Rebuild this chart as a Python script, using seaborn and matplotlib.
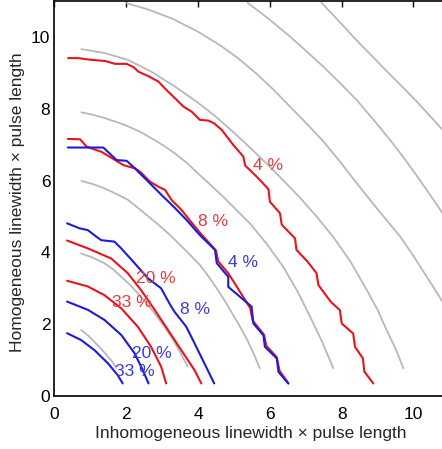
import matplotlib
matplotlib.use('Agg')
import matplotlib.pyplot as plt
import seaborn as sns

# grey reference contours (x, y)
g2_x = [0.74, 0.93, 1.11, 1.30, 1.49, 1.62, 1.72]
g2_y = [1.84, 1.69, 1.51, 1.31, 1.10, 0.94, 0.78]
g4_x = [0.74, 1.05, 1.39, 1.63, 1.86, 2.10, 2.32, 2.56, 2.79, 3.02, 3.25, 3.48, 3.71]
g4_y = [3.97, 3.86, 3.70, 3.53, 3.32, 3.10, 2.86, 2.59, 2.30, 1.99, 1.65, 1.26, 0.82]
g6_x = [0.75, 1.08, 1.40, 1.72, 2.05, 2.52, 2.86, 3.20, 3.62, 4.05, 4.30, 4.55, 4.77,
        4.98, 5.17, 5.35, 5.54, 5.72]
g6_y = [5.99, 5.90, 5.78, 5.63, 5.46, 5.08, 4.80, 4.50, 4.09, 3.65, 3.32, 2.95, 2.61,
        2.25, 1.93, 1.60, 1.20, 0.77]
g8_x = [0.75, 1.08, 1.40, 1.73, 2.05, 2.38, 2.70, 3.03, 3.35, 3.70, 4.05, 4.40, 4.75,
        5.10, 5.45, 5.91, 6.37, 6.75, 7.12, 7.45, 7.77]
g8_y = [7.90, 7.83, 7.74, 7.63, 7.51, 7.36, 7.18, 6.98, 6.76, 6.48, 6.15, 5.83, 5.50,
        5.15, 4.80, 4.24, 3.60, 2.95, 2.21, 1.52, 0.77]
g10_x = [0.75, 1.40, 2.05, 2.70, 3.35, 3.90, 4.47, 4.97, 5.40, 5.84, 6.34, 6.84, 7.30,
         7.77, 8.24, 8.70, 9.00, 9.25, 9.50, 9.72]
g10_y = [9.66, 9.55, 9.36, 9.03, 8.62, 8.24, 7.80, 7.36, 6.96, 6.54, 6.04, 5.52, 5.00,
         4.42, 3.75, 2.95, 2.40, 1.84, 1.32, 0.77]
g12_x = [2.01, 2.65, 3.30, 3.97, 4.64, 5.12, 5.60, 6.08, 6.56, 7.02, 7.49, 7.95, 8.40,
         9.00, 9.63, 10.00, 10.37, 10.70, 11.00]
g12_y = [10.94, 10.75, 10.50, 10.16, 9.75, 9.40, 9.00, 8.55, 8.06, 7.59, 7.09, 6.53,
         5.95, 5.20, 4.44, 3.90, 3.32, 2.80, 2.30]
g14_x = [5.38, 5.97, 6.56, 7.02, 7.49, 7.95, 8.42, 8.88, 9.35, 9.77, 10.18, 10.60, 11.00]
g14_y = [10.95, 10.50, 10.01, 9.60, 9.17, 8.72, 8.24, 7.70, 7.13, 6.58, 6.01, 5.40, 4.80]
g16_x = [7.44, 7.93, 8.42, 8.88, 9.35, 9.72, 10.09, 10.55, 11.00]
g16_y = [10.95, 10.43, 9.90, 9.43, 8.95, 8.58, 8.20, 7.70, 7.20]

# red curves
r4_x = [0.38, 0.66, 1.03, 1.41, 1.69, 2.01, 2.20, 2.34, 2.61, 2.89, 3.12, 3.36, 3.59,
        3.82, 4.05, 4.29, 4.45, 4.66, 4.98, 5.26, 5.31, 5.63, 5.96, 6.00, 6.28, 6.33,
        6.70, 6.74, 7.05, 7.30, 7.35, 7.70, 7.95, 8.00, 8.32, 8.37, 8.59, 8.63, 8.88]
r4_y = [9.41, 9.41, 9.36, 9.33, 9.25, 9.25, 9.16, 9.03, 8.91, 8.76, 8.52, 8.29, 8.06,
        7.92, 7.69, 7.67, 7.59, 7.41, 6.99, 6.67, 6.42, 6.11, 5.76, 5.41, 5.09, 4.77,
        4.39, 4.07, 3.74, 3.42, 3.09, 2.62, 2.39, 2.02, 1.74, 1.37, 1.05, 0.68, 0.35]
r8_x = [0.37, 0.71, 0.90, 1.31, 1.69, 1.92, 2.24, 2.38, 2.66, 2.89, 3.08, 3.26, 3.54,
        3.73, 4.05, 4.50, 4.56, 4.84, 4.98, 5.45, 5.52, 5.84, 5.90, 6.19, 6.27, 6.52]
r8_y = [7.16, 7.15, 6.94, 6.80, 6.57, 6.43, 6.34, 6.25, 5.97, 5.83, 5.74, 5.46, 5.18,
        4.94, 4.55, 4.05, 3.75, 3.42, 3.20, 2.45, 2.10, 1.70, 1.40, 1.08, 0.70, 0.35]
r20_x = [0.35, 0.93, 1.58, 2.04, 2.41, 2.79, 3.16, 3.53, 3.90, 4.09]
r20_y = [4.33, 4.11, 3.83, 3.42, 2.95, 2.40, 1.84, 1.28, 0.72, 0.35]
r33_x = [0.35, 0.93, 1.39, 1.86, 2.32, 2.69, 2.97, 3.11]
r33_y = [3.21, 3.05, 2.81, 2.44, 1.93, 1.37, 0.82, 0.35]

# blue curves
b4_x = [0.37, 1.36, 1.73, 2.01, 2.24, 2.61, 2.98, 3.36, 3.68, 4.05, 4.47, 4.52, 4.84,
        4.84, 5.49, 5.54, 5.82, 5.86, 6.19, 6.24, 6.51]
b4_y = [6.92, 6.92, 6.57, 6.55, 6.34, 5.97, 5.60, 5.23, 4.90, 4.48, 4.07, 3.70, 3.32,
        3.04, 2.49, 2.02, 1.69, 1.37, 1.05, 0.67, 0.35]
b8_x = [0.35, 0.70, 0.93, 1.11, 1.30, 1.67, 1.86, 2.23, 2.60, 2.97, 3.20, 3.34, 3.67,
        3.90, 4.13, 4.45]
b8_y = [4.81, 4.67, 4.62, 4.48, 4.34, 4.30, 4.11, 3.70, 3.28, 3.00, 2.58, 2.35, 1.93,
        1.47, 1.00, 0.35]
b20_x = [0.35, 0.93, 1.39, 1.86, 2.23, 2.46, 2.62]
b20_y = [2.63, 2.40, 2.12, 1.70, 1.19, 0.72, 0.35]
b33_x = [0.35, 0.74, 1.11, 1.49, 1.76, 1.90]
b33_y = [1.75, 1.56, 1.28, 0.91, 0.58, 0.35]

red_labels = ['4 %', '8 %', '20 %', '33 %']
red_label_x = [5.96, 4.42, 2.83, 2.14]
red_label_y = [6.43, 4.87, 3.28, 2.60]
blue_labels = ['4 %', '8 %', '20 %', '33 %']
blue_label_x = [5.26, 3.90, 2.72, 2.23]
blue_label_y = [3.71, 2.40, 1.19, 0.68]

sns.set_style('white')
plt.rcParams['font.family'] = ['Liberation Sans', 'DejaVu Sans']

grey = '#b8b8b8'
red = '#e8141c'
blue = '#1c1cd8'

fig = plt.figure(figsize=(4.42, 4.49), dpi=100)
ax = fig.add_axes([0.1233, 0.118, 11 * 35.9 / 442, 395 / 449])

greys = [(g2_x, g2_y), (g4_x, g4_y), (g6_x, g6_y), (g8_x, g8_y),
         (g10_x, g10_y), (g12_x, g12_y), (g14_x, g14_y), (g16_x, g16_y)]
for gx, gy in greys:
    sns.lineplot(x=gx, y=gy, sort=False, estimator=None, color=grey, lw=1.3,
                 solid_joinstyle='round', ax=ax)

for rx, ry in [(r4_x, r4_y), (r8_x, r8_y), (r20_x, r20_y), (r33_x, r33_y)]:
    sns.lineplot(x=rx, y=ry, sort=False, estimator=None, color=red, lw=1.5, ax=ax)

for bx, by in [(b4_x, b4_y), (b8_x, b8_y), (b20_x, b20_y), (b33_x, b33_y)]:
    sns.lineplot(x=bx, y=by, sort=False, estimator=None, color=blue, lw=1.5, ax=ax)

for t, x, y in zip(red_labels, red_label_x, red_label_y):
    ax.text(x, y, t, color='#e83a3a', fontsize=12.5, ha='center', va='center')
for t, x, y in zip(blue_labels, blue_label_x, blue_label_y):
    ax.text(x, y, t, color='#3a3ad8', fontsize=12.5, ha='center', va='center')

ax.set_xlim(0, 11)
ax.set_ylim(0, 11)
ax.set_xticks([0, 2, 4, 6, 8, 10])
ax.set_yticks([0, 2, 4, 6, 8, 10])
ax.tick_params(direction='in', length=4, width=1, top=True, right=True,
               labelsize=12.5, colors='black')
ax.tick_params(axis='x', pad=8)
ax.tick_params(axis='y', pad=3)
for s in ax.spines.values():
    s.set_color('black')
    s.set_linewidth(1.2)

ax.set_xlabel('Inhomogeneous linewidth \u00d7 pulse length', fontsize=12.5)
ax.set_ylabel('Homogeneous linewidth \u00d7 pulse length', fontsize=12.5)
ax.xaxis.set_label_coords((251 - 54.5) / (11 * 35.9), -0.075)
ax.yaxis.set_label_coords(-0.075, 0.49)

fig.savefig('out.png', dpi=100)
